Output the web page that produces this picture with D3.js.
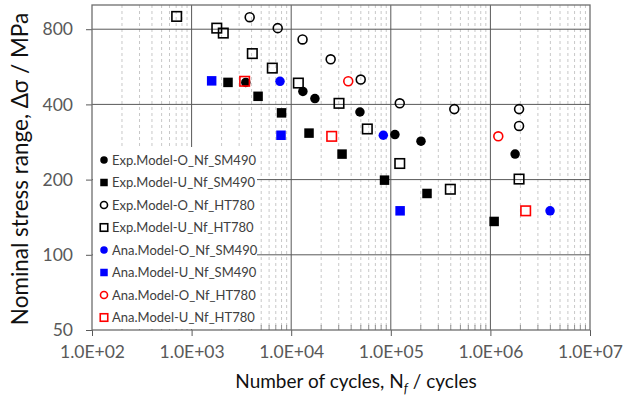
<!DOCTYPE html>
<html>
<head>
<meta charset="utf-8">
<script src="https://cdn.jsdelivr.net/npm/d3@7"></script>
<style>
  body { margin: 0; background: #fff; }
  text { font-family: Lato, "Open Sans", sans-serif; }
</style>
</head>
<body>
<script>
// cycles (N) and stress range (MPa)
var expO_SM490_N = [3500, 13100, 17300, 49000, 110000, 201000, 1770000]
var expO_SM490_S = [490, 451, 422, 373, 303, 285, 253]
var expU_SM490_N = [2320, 4650, 8000, 15100, 32400, 86500, 231000, 1090000]
var expU_SM490_S = [490, 431, 370, 307, 253, 199, 176, 136]
var expO_HT780_N = [3830, 7320, 13000, 24900, 49900, 123000, 434000, 1940000, 1940000]
var expO_HT780_S = [894, 808, 728, 606, 503, 404, 383, 383, 328]
var expU_HT780_N = [708, 1790, 2080, 4070, 6460, 11800, 30200, 58100, 123000, 396000, 1940000]
var expU_HT780_S = [900, 808, 772, 639, 559, 487, 404, 319, 232, 183, 201]
var anaO_SM490_N = [7720, 84100, 3970000]
var anaO_SM490_S = [495, 301, 150]
var anaU_SM490_N = [1590, 7900, 124000]
var anaU_SM490_S = [497, 301, 150]
var anaO_HT780_N = [37400, 1200000]
var anaO_HT780_S = [495, 298]
var anaU_HT780_N = [3410, 25500, 2260000]
var anaU_HT780_S = [495, 298, 150]

var xTicks = [1e2, 1e3, 1e4, 1e5, 1e6, 1e7]
var yTicks = [50, 100, 200, 400, 800]

var series = [
  {name: "Exp.Model-O_Nf_SM490", N: expO_SM490_N, S: expO_SM490_S, shape: "circle", color: "#000", fill: true},
  {name: "Exp.Model-U_Nf_SM490", N: expU_SM490_N, S: expU_SM490_S, shape: "square", color: "#000", fill: true},
  {name: "Exp.Model-O_Nf_HT780", N: expO_HT780_N, S: expO_HT780_S, shape: "circle", color: "#000", fill: false},
  {name: "Exp.Model-U_Nf_HT780", N: expU_HT780_N, S: expU_HT780_S, shape: "square", color: "#000", fill: false},
  {name: "Ana.Model-O_Nf_SM490", N: anaO_SM490_N, S: anaO_SM490_S, shape: "circle", color: "#0000ff", fill: true},
  {name: "Ana.Model-U_Nf_SM490", N: anaU_SM490_N, S: anaU_SM490_S, shape: "square", color: "#0000ff", fill: true},
  {name: "Ana.Model-O_Nf_HT780", N: anaO_HT780_N, S: anaO_HT780_S, shape: "circle", color: "#ff0000", fill: false},
  {name: "Ana.Model-U_Nf_HT780", N: anaU_HT780_N, S: anaU_HT780_S, shape: "square", color: "#ff0000", fill: false}
]

var W = 632, H = 397
var pL = 92, pR = 590, pT = 5, pB = 330

var svg = d3.select("body").append("svg")
  .attr("width", W)
  .attr("height", H)

var x = d3.scaleLog().domain([1e2, 1e7]).range([pL, pR])
var y = d3.scaleLog().domain([50, 1000]).range([pB, pT])

// minor vertical grid (2..9 of every decade)
var minors = []
for (var d = 2; d < 7; d++) for (var k = 2; k <= 9; k++) minors.push(k * Math.pow(10, d))

var grid = svg.append("g")
grid.selectAll(".minor").data(minors).enter().append("line")
  .attr("x1", d => x(d)).attr("x2", d => x(d))
  .attr("y1", pT).attr("y2", pB)
  .attr("stroke", "#c8c8c8")
  .attr("stroke-dasharray", "3,3")
grid.selectAll(".minorTick").data(minors).enter().append("line")
  .attr("x1", d => x(d)).attr("x2", d => x(d))
  .attr("y1", pB - 5).attr("y2", pB)
  .attr("stroke", "#909090")
grid.selectAll(".vmaj").data(xTicks.slice(1, -1)).enter().append("line")
  .attr("x1", d => x(d)).attr("x2", d => x(d))
  .attr("y1", pT).attr("y2", pB)
  .attr("stroke", "#595959")
grid.selectAll(".hmaj").data(yTicks.slice(1)).enter().append("line")
  .attr("x1", pL).attr("x2", pR)
  .attr("y1", d => y(d)).attr("y2", d => y(d))
  .attr("stroke", "#595959")

// axes
var xAxis = svg.append("g")
  .attr("transform", "translate(0," + pB + ")")
  .call(d3.axisBottom(x).tickValues(xTicks).tickSize(6).tickPadding(10)
    .tickFormat(d => d.toExponential(1).toUpperCase().replace(/E\+(\d)$/, "E+0$1")))
var yAxis = svg.append("g")
  .attr("transform", "translate(" + pL + ",0)")
  .call(d3.axisLeft(y).tickValues(yTicks).tickSize(6).tickPadding(13).tickFormat(d3.format("d")))
;[xAxis, yAxis].forEach(function(a) {
  a.select(".domain").remove()
  a.selectAll("line").attr("stroke", "#595959")
  a.selectAll("text").attr("fill", "#595959").style("font-size", "17.5px")
})

svg.append("rect")
  .attr("x", pL).attr("y", pT)
  .attr("width", pR - pL).attr("height", pB - pT)
  .attr("fill", "none")
  .attr("stroke", "#6e6e6e")
  .attr("stroke-width", 1.3)

function marker(sel, s, size) {
  if (s.shape == "circle") {
    sel.append("circle").attr("r", s.fill ? size * 0.5 : size * 0.47)
  } else {
    sel.append("rect")
      .attr("x", -size / 2).attr("y", -size / 2)
      .attr("width", size).attr("height", size)
  }
  sel.selectAll("circle,rect")
    .attr("fill", s.fill ? s.color : "none")
    .attr("stroke", s.fill ? "none" : s.color)
    .attr("stroke-width", 1.6)
}

series.forEach(function(s) {
  svg.append("g").selectAll("g")
    .data(s.N.map((n, i) => [n, s.S[i]]))
    .enter().append("g")
    .attr("transform", d => "translate(" + x(d[0]) + "," + y(d[1]) + ")")
    .each(function() { marker(d3.select(this), s, 9.5) })
})

// legend
var legend = svg.append("g")
legend.append("rect")
  .attr("x", pL + 1).attr("y", 147)
  .attr("width", 164).attr("height", pB - 148)
  .attr("fill", "#fff")
var item = legend.selectAll(".item").data(series).enter().append("g")
  .attr("transform", (d, i) => "translate(104," + (160 + i * 22.5) + ")")
item.each(function(s) { marker(d3.select(this), s, 7.5) })
item.append("text")
  .attr("x", 8)
  .attr("dy", "0.35em")
  .attr("fill", "#404040")
  .style("font-size", "13px")
  .text(d => d.name)

// axis titles
var xt = svg.append("text")
  .attr("x", (pL + pR) / 2 + 15).attr("y", 388)
  .attr("text-anchor", "middle")
  .attr("fill", "#111")
  .style("font-size", "19px")
xt.append("tspan").text("Number of cycles, N")
xt.append("tspan").attr("font-style", "italic").attr("dy", 5).style("font-size", "13px").text("f")
xt.append("tspan").attr("dy", -5).text(" / cycles")

svg.append("text")
  .attr("transform", "translate(28,169) rotate(-90)")
  .attr("text-anchor", "middle")
  .attr("fill", "#111")
  .style("font-size", "22.5px")
  .text("Nominal stress range, Δσ / MPa")
</script>
</body>
</html>
